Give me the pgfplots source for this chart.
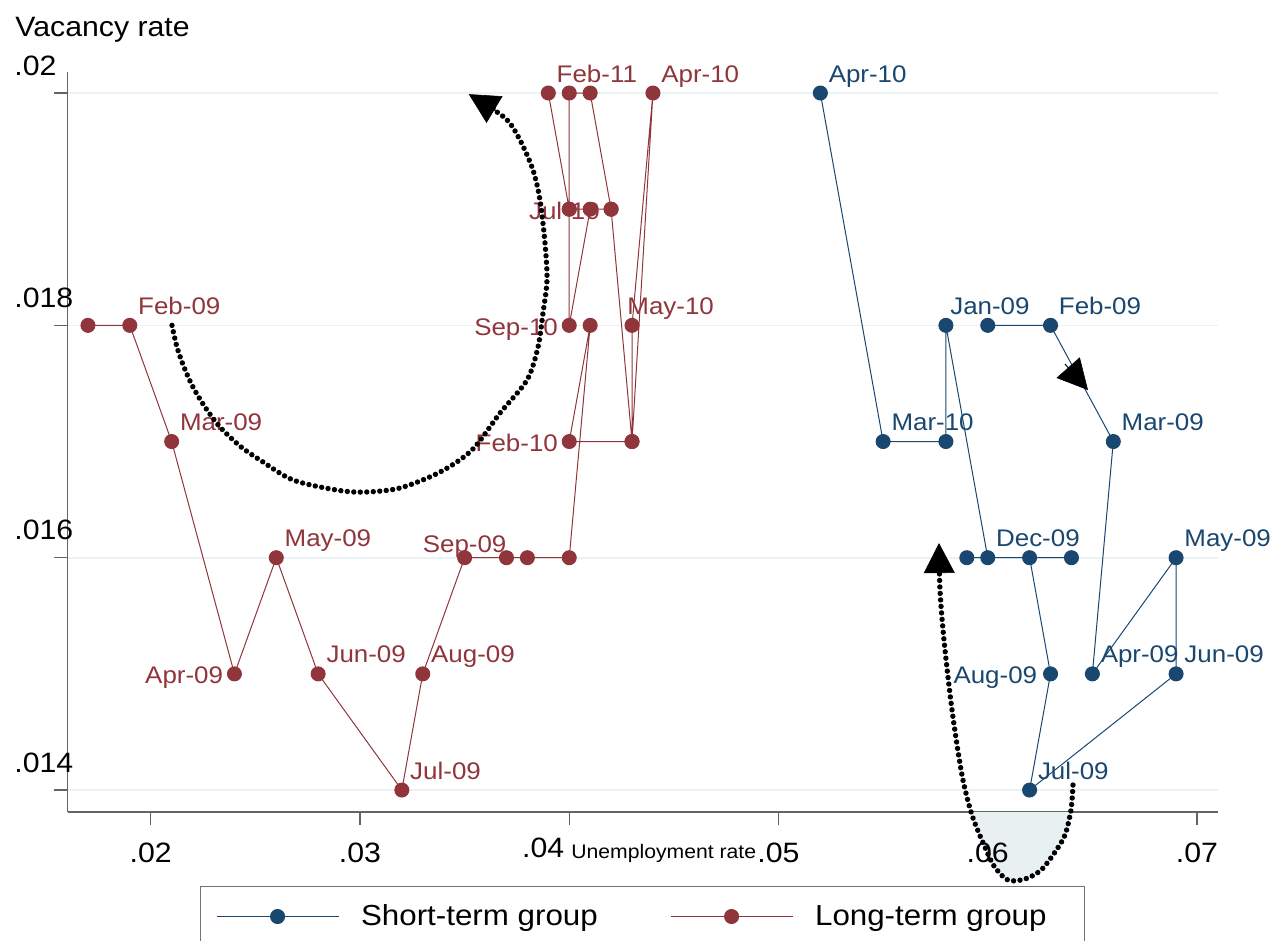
\documentclass[border=0pt]{standalone}
\usepackage{fontspec}
\setmainfont{Liberation Sans}[FakeStretch=1.08]
\usepackage{pgfplots}
\pgfplotsset{compat=1.18}
\usetikzlibrary{arrows.meta}
\definecolor{navy}{RGB}{26,71,111}
\definecolor{maroon}{RGB}{144,53,59}
\definecolor{gridc}{RGB}{234,242,243}
\definecolor{shade}{RGB}{232,240,242}
\definecolor{axc}{RGB}{100,100,100}
\begin{document}
\begin{tikzpicture}[
  lbl/.style={font=\fontsize{12pt}{14pt}\selectfont, inner sep=0pt},
  NE/.style={lbl, anchor=base west, xshift=4pt, yshift=5.5pt},
  W/.style={lbl, anchor=base east, xshift=-5.5pt, yshift=-5pt},
  N/.style={lbl, anchor=base, yshift=2.75pt},
  tl/.style={font=\fontsize{14pt}{17pt}\selectfont, inner sep=0pt},
  dotc/.style={black, line width=2.7pt, line cap=round, dash pattern=on 0pt off 3.25pt}
]
\begin{axis}[
  at={(33.75pt,-406pt)}, anchor=south west,
  scale only axis, width=575.25pt, height=370pt,
  xmin=0.016022, xmax=0.071004, ymin=0.013811, ymax=0.020181,
  axis x line*=bottom, axis y line*=left,
  axis line style={draw=axc, line width=0.6pt},
  xtick={0.02,0.03,0.04,0.05,0.06,0.07}, ytick={0.014,0.016,0.018,0.02},
  xticklabels=\empty, yticklabels=\empty, scaled ticks=false,
  tick align=outside, major tick length=6.5pt,
  tick style={draw=axc, line width=0.6pt},
  ymajorgrids, grid style={draw=gridc, line width=0.8pt},
  clip=false,
  legend columns=2,
  legend style={at={(0.1148,-0.1)}, anchor=north west, draw=black!55, line width=0.5pt,
    inner xsep=8pt, inner ysep=9pt, fill=white,
    font=\fontsize{14.5pt}{17pt}\selectfont, cells={anchor=west}, nodes={inner sep=0pt}},
  legend image code/.code={\draw[#1, mark repeat=2, mark phase=2] plot coordinates {(0pt,0pt) (30.5pt,0pt) (61pt,0pt)};},
]
% shaded area under the blue loop
\addplot[fill=shade, draw=none, smooth, forget plot] coordinates {
 (0.059224,0.013811) (0.059821,0.013527) (0.060299,0.013346) (0.060968,0.013225)
 (0.061780,0.013234) (0.062545,0.013311) (0.063214,0.013466) (0.063692,0.013613)
 (0.063990,0.013811)} -- cycle;

% Short-term group
\addplot[color=navy, line width=0.5pt, mark=*, mark size=3.5pt, mark options={fill=navy, draw=navy}] coordinates {
 (0.060,0.018) (0.063,0.018) (0.066,0.017) (0.065,0.015) (0.069,0.016) (0.069,0.015)
 (0.062,0.014) (0.063,0.015) (0.062,0.016) (0.064,0.016) (0.059,0.016) (0.060,0.016)
 (0.058,0.018) (0.058,0.017) (0.055,0.017) (0.052,0.020)};
\addlegendentry{\makebox[165.5pt][l]{\hspace{11pt}Short-term group}}

% Long-term group
\addplot[color=maroon, line width=0.5pt, mark=*, mark size=3.5pt, mark options={fill=maroon, draw=maroon}] coordinates {
 (0.017,0.018) (0.019,0.018) (0.021,0.017) (0.024,0.015) (0.026,0.016) (0.028,0.015)
 (0.032,0.014) (0.033,0.015) (0.035,0.016) (0.037,0.016) (0.038,0.016) (0.040,0.016)
 (0.041,0.018) (0.040,0.017) (0.043,0.017) (0.044,0.020) (0.043,0.018) (0.043,0.017)
 (0.042,0.019) (0.041,0.019) (0.040,0.018) (0.040,0.019) (0.040,0.020) (0.041,0.020)
 (0.042,0.019) (0.040,0.019) (0.039,0.020)};
\addlegendentry{\makebox[137.5pt][l]{\hspace{11pt}Long-term group}}

% labels, long-term
\node[NE, maroon] at (axis cs:0.019,0.018) {Feb-09};
\node[NE, maroon] at (axis cs:0.021,0.017) {Mar-09};
\node[W,  maroon] at (axis cs:0.024,0.015) {Apr-09};
\node[NE, maroon] at (axis cs:0.026,0.016) {May-09};
\node[NE, maroon] at (axis cs:0.028,0.015) {Jun-09};
\node[NE, maroon] at (axis cs:0.032,0.014) {Jul-09};
\node[NE, maroon] at (axis cs:0.033,0.015) {Aug-09};
\node[N,  maroon] at (axis cs:0.035,0.016) {Sep-09};
\node[W,  maroon] at (axis cs:0.040,0.017) {Feb-10};
\node[NE, maroon] at (axis cs:0.044,0.020) {Apr-10};
\node[NE, maroon, xshift=-6.5pt] at (axis cs:0.043,0.018) {May-10};
\node[W,  maroon] at (axis cs:0.040,0.018) {Sep-10};
\node[W,  maroon] at (axis cs:0.042,0.019) {Jul-10};
\node[NE, maroon] at (axis cs:0.039,0.020) {Feb-11};
% labels, short-term
\node[NE, navy] at (axis cs:0.052,0.020) {Apr-10};
\node[NE, navy, xshift=-2pt] at (axis cs:0.058,0.018) {Jan-09};
\node[NE, navy] at (axis cs:0.063,0.018) {Feb-09};
\node[NE, navy] at (axis cs:0.055,0.017) {Mar-10};
\node[NE, navy] at (axis cs:0.066,0.017) {Mar-09};
\node[NE, navy] at (axis cs:0.060,0.016) {Dec-09};
\node[NE, navy] at (axis cs:0.069,0.016) {May-09};
\node[NE, navy] at (axis cs:0.065,0.015) {Apr-09};
\node[NE, navy] at (axis cs:0.069,0.015) {Jun-09};
\node[W,  navy, xshift=-1pt] at (axis cs:0.063,0.015) {Aug-09};
\node[NE, navy] at (axis cs:0.062,0.014) {Jul-09};

% dotted arrows
\addplot[dotc, smooth, forget plot, -{Triangle[length=15pt,width=15.5pt,line width=0.3pt]}] coordinates {
 (0.021016,0.018000) (0.021254,0.017813) (0.021589,0.017641) (0.022019,0.017469)
 (0.022593,0.017297) (0.023309,0.017125) (0.024265,0.016961) (0.025221,0.016841)
 (0.026798,0.016669) (0.028901,0.016582) (0.030239,0.016565) (0.031912,0.016600)
 (0.033823,0.016737) (0.035352,0.016927) (0.036691,0.017245) (0.037981,0.017529)
 (0.038507,0.017813) (0.038746,0.018106) (0.038937,0.018390) (0.038841,0.018709)
 (0.038602,0.019079) (0.038268,0.019337) (0.037646,0.019595) (0.036930,0.019785)
 (0.035200,0.019990)};
\addplot[dotc, smooth, forget plot, -{Triangle[length=15pt,width=15.5pt,line width=0.3pt]}] coordinates {
 (0.064074,0.014043) (0.063978,0.013828) (0.063692,0.013613) (0.063214,0.013466)
 (0.062545,0.013311) (0.061780,0.013234) (0.060968,0.013225) (0.060299,0.013346)
 (0.059821,0.013527) (0.059247,0.013785) (0.058769,0.014129) (0.058292,0.014689)
 (0.057909,0.015291) (0.057718,0.015722) (0.057670,0.016126)};
\addplot[black, line width=0.5pt, forget plot, -{Triangle[length=15pt,width=15.5pt,line width=0.3pt]}] coordinates {
 (0.063692,0.017667) (0.064791,0.017443)};

% tick labels and titles
\node[tl, anchor=base west, xshift=-26.75pt, yshift=9pt] at (axis cs:0.016022,0.020) {.02};
\node[tl, anchor=base west, xshift=-26.75pt, yshift=9pt] at (axis cs:0.016022,0.018) {.018};
\node[tl, anchor=base west, xshift=-26.75pt, yshift=9pt] at (axis cs:0.016022,0.016) {.016};
\node[tl, anchor=base west, xshift=-26.75pt, yshift=9pt] at (axis cs:0.016022,0.014) {.014};
\node[tl, anchor=base, yshift=-25pt] at (axis cs:0.02,0.013811) {.02};
\node[tl, anchor=base, yshift=-25pt] at (axis cs:0.03,0.013811) {.03};
\node[tl, anchor=base, xshift=-13pt, yshift=-22.5pt] at (axis cs:0.04,0.013811) {.04};
\node[tl, anchor=base, yshift=-25pt] at (axis cs:0.05,0.013811) {.05};
\node[tl, anchor=base, yshift=-25pt] at (axis cs:0.06,0.013811) {.06};
\node[tl, anchor=base, yshift=-25pt] at (axis cs:0.07,0.013811) {.07};
\node[anchor=base, inner sep=0pt, xshift=0.5pt, yshift=-23pt, font=\fontsize{9.8pt}{12pt}\selectfont] at (axis cs:0.04447,0.013811) {Unemployment rate};
\node[tl, anchor=base west, xshift=-26.25pt, yshift=17.5pt] at (axis cs:0.016022,0.020181) {Vacancy rate};
\end{axis}
\pgfresetboundingbox
\useasboundingbox (0,0) rectangle (636.5pt,-470.5pt);
\end{tikzpicture}
\end{document}
